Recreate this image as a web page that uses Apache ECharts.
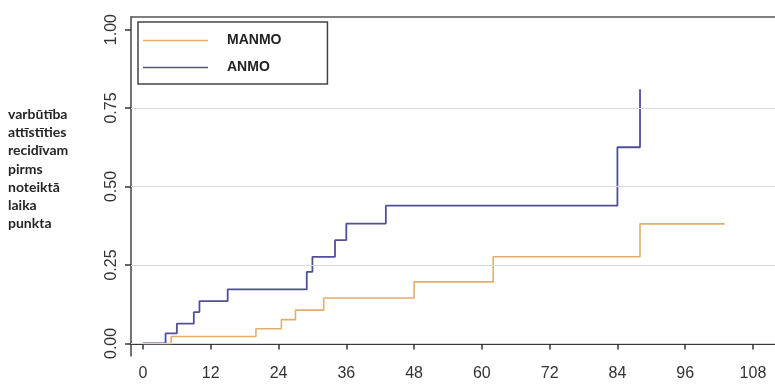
<!DOCTYPE html>
<html>
<head>
<meta charset="utf-8">
<script src="https://cdn.jsdelivr.net/npm/echarts@6/dist/echarts.min.js"></script>
<style>html,body{margin:0;padding:0;background:#fff;}#c{width:775px;height:387px;}</style>
</head>
<body>
<div id="c"></div>
<script>
// ---- data ----
var seriesNames = ['MANMO', 'ANMO'];
var manmoTimes  = [0, 5, 20, 24.5, 27, 32, 48, 62, 88, 103];
var manmoValues = [0, 0.022, 0.047, 0.076, 0.106, 0.145, 0.196, 0.276, 0.381, 0.381];
var anmoTimes   = [0, 4, 6, 9, 10, 15, 29, 30, 34, 36, 43, 84, 88];
var anmoValues  = [0, 0.032, 0.063, 0.100, 0.135, 0.172, 0.228, 0.276, 0.329, 0.382, 0.439, 0.625, 0.810];
var xTicks = [0, 12, 24, 36, 48, 60, 72, 84, 96, 108];
var yTicks = [0, 0.25, 0.5, 0.75, 1.0];
var yTickLabels = ['0.00', '0.25', '0.50', '0.75', '1.00'];
var gridValues = [0, 0.25, 0.5, 0.75];
var yTitleLines = ['varbūtība', 'attīstīties', 'recidīvam', 'pirms', 'noteiktā', 'laika', 'punkta'];

function pairs(xs, ys) { return xs.map(function (x, i) { return [x, ys[i]]; }); }

var chart = echarts.init(document.getElementById('c'));
var labelFont = 'Liberation Sans, Arial, sans-serif';
chart.setOption({
  animation: false,
  backgroundColor: '#ffffff',
  grid: { left: 131, right: 0, top: 17, bottom: 31, containLabel: false },
  xAxis: [{
    type: 'value', min: -2.12, max: 111.9, position: 'bottom',
    axisLine: { show: true, lineStyle: { color: '#3a3a3a', width: 2 } },
    axisTick: { show: true, customValues: xTicks, length: 6, inside: false, lineStyle: { color: '#333', width: 1.5 } },
    axisLabel: { customValues: xTicks, fontFamily: labelFont, fontSize: 16, color: '#333', margin: 10 },
    splitLine: { show: false }
  }, {
    type: 'value', min: -2.12, max: 111.9, position: 'top',
    axisLine: { show: true, onZero: false, lineStyle: { color: '#555', width: 1.5 } },
    axisTick: { show: false }, axisLabel: { show: false }, splitLine: { show: false }
  }],
  yAxis: {
    type: 'value', min: -0.04, max: 1.04,
    axisLine: { show: true, onZero: false, lineStyle: { color: '#444', width: 1.5 } },
    axisTick: { show: true, customValues: yTicks, length: 6, lineStyle: { color: '#333', width: 1.5 } },
    axisLabel: {
      customValues: yTicks, rotate: 90, fontFamily: labelFont, fontSize: 16, color: '#333', margin: 11,
      formatter: function (v) { var i = yTicks.indexOf(v); return i >= 0 ? yTickLabels[i] : ''; }
    },
    splitLine: { show: false }
  },
  legend: {
    left: 138, top: 22, orient: 'vertical',
    data: seriesNames,
    icon: 'rect', itemWidth: 65, itemHeight: 1.5, itemGap: 12,
    padding: [11, 46, 9, 5],
    borderColor: '#444', borderWidth: 1.5, backgroundColor: '#fff',
    textStyle: { fontFamily: labelFont, fontWeight: 'bold', fontSize: 14, color: '#222', padding: [0, 0, 0, 14], lineHeight: 15 }
  },
  graphic: [{
    type: 'text', left: 8, top: 105,
    style: { text: yTitleLines.join('\n'), font: 'bold 14px Lato, sans-serif', fill: '#262626', lineHeight: 18.3 }
  }],
  series: [{
    type: 'line', name: '_grid', data: [], silent: true, z: 1,
    markLine: {
      silent: true, symbol: 'none', label: { show: false },
      lineStyle: { color: '#d9d9d9', width: 1, type: 'solid' },
      data: gridValues.map(function (v) { return { yAxis: v }; })
    }
  }, {
    type: 'line', name: seriesNames[0], step: 'end', showSymbol: false, z: 3,
    color: '#e2ae6e', lineStyle: { width: 1.6, color: '#e2ae6e' },
    data: pairs(manmoTimes, manmoValues)
  }, {
    type: 'line', name: seriesNames[1], step: 'end', showSymbol: false, z: 4,
    color: '#50509a', lineStyle: { width: 1.8, color: '#50509a' },
    data: pairs(anmoTimes, anmoValues)
  }]
});
</script>
</body>
</html>
